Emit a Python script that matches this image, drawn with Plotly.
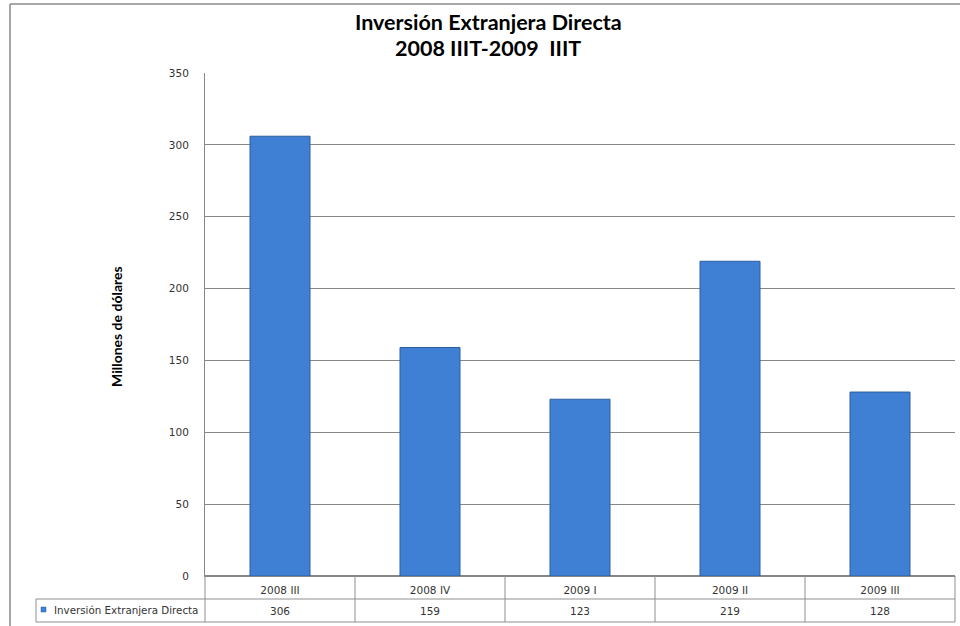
import plotly.graph_objects as go

categories = ["2008 III", "2008 IV", "2009 I", "2009 II", "2009 III"]
values = [306, 159, 123, 219, 128]
series_name = "Inversión Extranjera Directa"
y_ticks = [0, 50, 100, 150, 200, 250, 300, 350]
title_lines = ["Inversión Extranjera Directa", "2008 IIIT-2009  IIIT"]
y_title = "Millones de dólares"

W, H = 960, 626
L, R, T, B = 205, 5, 73, 50
PW = W - L - R
PH = H - T - B


def px(x):
    return (x - L) / PW


def py(y):
    return (H - B - y) / PH


GRID = "#878787"
TAB = "#8f8f8f"
TXT = "#333333"
BAR = "#3f80d4"
BAR_EDGE = "#2c5d9e"

fig = go.Figure()
fig.add_trace(go.Bar(
    x=categories, y=values, name=series_name,
    marker=dict(color=BAR, line=dict(color=BAR_EDGE, width=1)),
    width=0.4, showlegend=False,
))

shapes = []
# outer chart border
shapes.append(dict(type="line", xref="paper", yref="paper", x0=px(10), x1=px(975), y0=py(4), y1=py(4),
                   line=dict(color="#8a8a8a", width=1.5)))
shapes.append(dict(type="line", xref="paper", yref="paper", x0=px(10), x1=px(10), y0=py(4), y1=py(640),
                   line=dict(color="#8a8a8a", width=1.5)))
# data table lines
for yy in [599, 622]:
    shapes.append(dict(type="line", xref="paper", yref="paper", x0=px(36), x1=px(955), y0=py(yy), y1=py(yy),
                       line=dict(color=TAB, width=1)))
shapes.append(dict(type="line", xref="paper", yref="paper", x0=px(36), x1=px(36), y0=py(599), y1=py(622),
                   line=dict(color=TAB, width=1)))
for i in range(len(categories) + 1):
    xx = L + i * PW / len(categories)
    shapes.append(dict(type="line", xref="paper", yref="paper", x0=px(xx), x1=px(xx), y0=py(576), y1=py(622),
                       line=dict(color=TAB, width=1)))
# legend key
shapes.append(dict(type="rect", xref="paper", yref="paper", x0=px(41), x1=px(46), y0=py(607), y1=py(612),
                   line=dict(color=BAR_EDGE, width=0.5), fillcolor=BAR))

annotations = []
for c, v in zip(categories, values):
    annotations.append(dict(x=c, xref="x", y=py(611), yref="paper", text=str(v), showarrow=False,
                            font=dict(family="DejaVu Sans", size=10.5, color=TXT), xanchor="center", yanchor="middle"))
annotations.append(dict(x=px(52), xref="paper", y=py(610), yref="paper", text=series_name, showarrow=False,
                        font=dict(family="DejaVu Sans", size=10.3, color=TXT), xanchor="left", yanchor="middle"))
annotations.append(dict(x=px(116), xref="paper", y=py(327), yref="paper", text=y_title, showarrow=False,
                        textangle=-90, font=dict(family="Lato", size=14, color="#000000", weight="bold"),
                        xanchor="center", yanchor="middle"))
for i, line in enumerate(title_lines):
    annotations.append(dict(x=px(488), xref="paper", y=py(22 + 26 * i), yref="paper", text=line, showarrow=False,
                            font=dict(family="Lato", size=21.5, color="#000000", weight="bold"),
                            xanchor="center", yanchor="middle"))

fig.update_layout(
    width=W, height=H,
    margin=dict(l=L, r=R, t=T, b=B, pad=0),
    paper_bgcolor="white", plot_bgcolor="white",
    bargap=0.6,
    shapes=shapes, annotations=annotations,
    xaxis=dict(showgrid=False, showline=True, linecolor=GRID, linewidth=1, ticks="",
               tickfont=dict(family="DejaVu Sans", size=10.5, color=TXT), ticklabelstandoff=4,
               fixedrange=True),
    yaxis=dict(range=[0, 350], tickvals=y_ticks, showgrid=True, gridcolor=GRID, gridwidth=1,
               showline=True, linecolor=GRID, linewidth=1, zeroline=True, zerolinecolor=GRID,
               tickfont=dict(family="DejaVu Sans", size=10.5, color=TXT), ticks="",
               ticklabelstandoff=13, fixedrange=True),
    font=dict(family="DejaVu Sans"),
)

fig.write_html("out.html", config={"displayModeBar": False},
               post_script="document.body.style.margin='0';document.body.style.overflow='hidden';")
